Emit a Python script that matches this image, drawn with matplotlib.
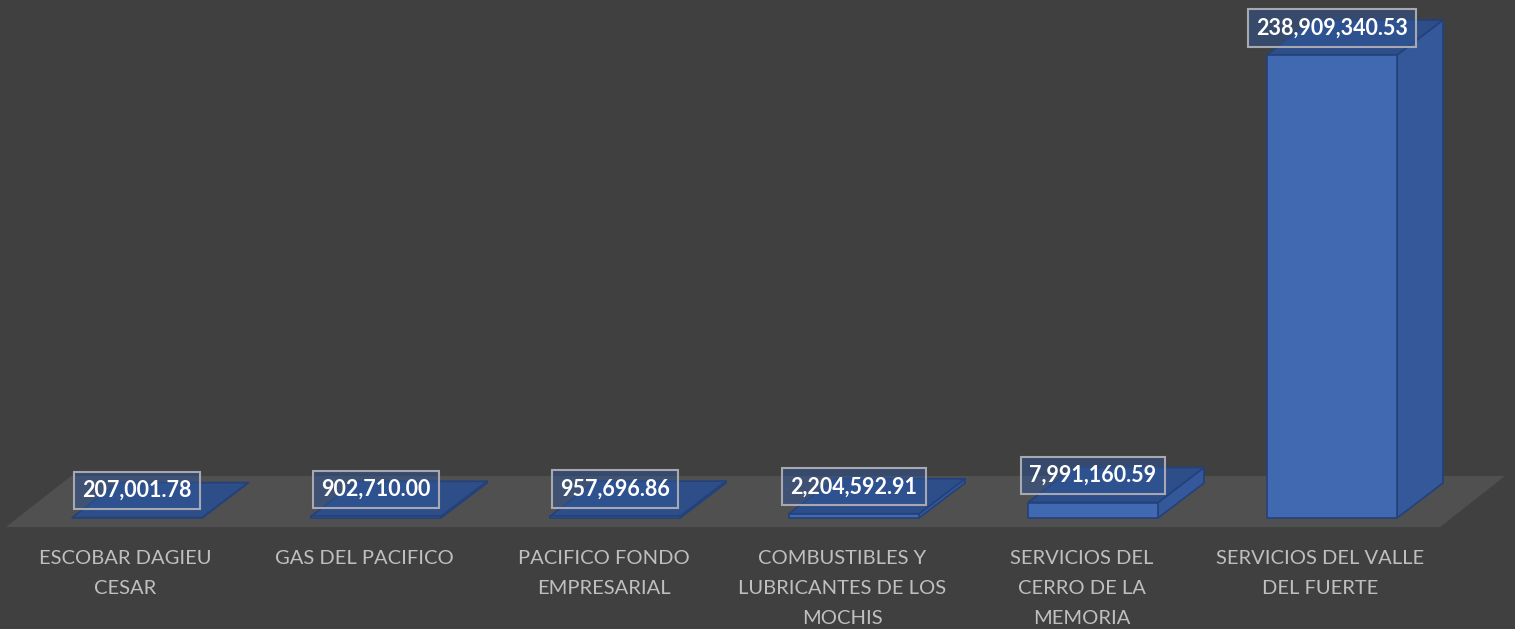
import matplotlib
matplotlib.use("Agg")
import matplotlib.pyplot as plt
from matplotlib.patches import Polygon

# ---------------- data ----------------
categories = [
    "ESCOBAR DAGIEU\nCESAR",
    "GAS DEL PACIFICO",
    "PACIFICO FONDO\nEMPRESARIAL",
    "COMBUSTIBLES Y\nLUBRICANTES DE LOS\nMOCHIS",
    "SERVICIOS DEL\nCERRO DE LA\nMEMORIA",
    "SERVICIOS DEL VALLE\nDEL FUERTE",
]
values = [207001.78, 902710.00, 957696.86, 2204592.91, 7991160.59, 238909340.53]
value_labels = ["207,001.78", "902,710.00", "957,696.86", "2,204,592.91",
                "7,991,160.59", "238,909,340.53"]

# ---------------- style ----------------
BG = "#404040"
FLOOR = "#505050"
FRONT = "#4169B1"
SIDE = "#34589A"
TOP = "#2E4E89"
EDGE = "#23417A"
LABEL_FILL = "#2F5597"
LABEL_EDGE = "#A8A8B0"
TXT = "#BFBFBF"

W, H, DPI = 1515, 629, 100
fig = plt.figure(figsize=(W / DPI, H / DPI), dpi=DPI, facecolor=BG)

# axes geometry (pixels)
base_px = 518           # y pixel (from top) of the bar base line
first_center_px = 137
step_px = 239
ymax = 2.7e8
top_bar_px = 463        # height of largest bar in pixels
ax_h_px = top_bar_px * ymax / max(values)
ax = fig.add_axes([0, (H - base_px) / H, 1, ax_h_px / H])
ax.set_facecolor("none")
xmin = -first_center_px / step_px
xmax = (W - first_center_px) / step_px
ax.set_xlim(xmin, xmax)
ax.set_ylim(0, ymax)
ax.axis("off")

xpp = (xmax - xmin) / W          # data x units per pixel
ypp = ymax / ax_h_px             # data y units per pixel

bar_w = 130 * xpp
ddx, ddy = 46 * xpp, 35 * ypp    # bar depth offset

# floor parallelogram
slope = 65 / 51
f_front = 9
f_back = 42
fx0, fx1 = -0.5, len(values) - 0.5
floor = [
    (fx0 - f_front * slope * xpp, -f_front * ypp),
    (fx1 - f_front * slope * xpp, -f_front * ypp),
    (fx1 + f_back * slope * xpp, f_back * ypp),
    (fx0 + f_back * slope * xpp, f_back * ypp),
]
ax.add_patch(Polygon(floor, closed=True, facecolor=FLOOR, edgecolor="none",
                     clip_on=False, zorder=1))

for i, v in enumerate(values):
    x0 = i - bar_w / 2
    x1 = i + bar_w / 2
    front = [(x0, 0), (x1, 0), (x1, v), (x0, v)]
    side = [(x1, 0), (x1 + ddx, ddy), (x1 + ddx, v + ddy), (x1, v)]
    top = [(x0, v), (x1, v), (x1 + ddx, v + ddy), (x0 + ddx, v + ddy)]
    for poly, col in ((side, SIDE), (top, TOP), (front, FRONT)):
        ax.add_patch(Polygon(poly, closed=True, facecolor=col, edgecolor=EDGE,
                             linewidth=1.2, joinstyle="round", clip_on=False,
                             zorder=3))
    # value label
    ax.text(i, v + 27 * ypp, value_labels[i], ha="center", va="center",
            fontsize=15.5, fontweight="bold", color="white", family="Lato",
            zorder=5, clip_on=False,
            bbox=dict(boxstyle="square,pad=0.38", facecolor=LABEL_FILL + "80",
                      edgecolor=LABEL_EDGE, linewidth=1.5))
    # category label
    ax.text(i - 11.5 * xpp, -32 * ypp, categories[i], ha="center", va="top",
            fontsize=14.5, color=TXT, family="Lato", linespacing=1.92,
            clip_on=False, zorder=4)

fig.savefig("out.png", dpi=DPI, facecolor=BG)
